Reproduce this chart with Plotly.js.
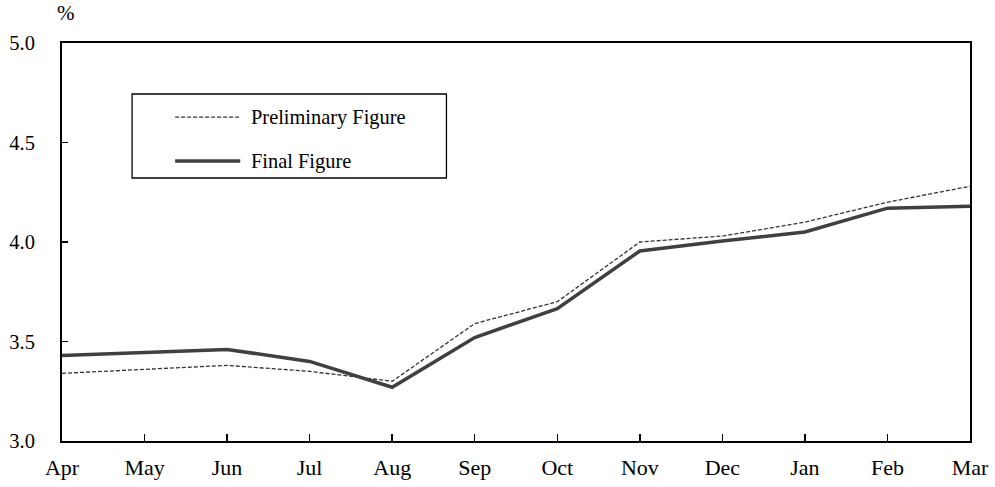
<!DOCTYPE html>
<html>
<head>
<meta charset="utf-8">
<script src="https://cdn.plot.ly/plotly-3.0.1.min.js"></script>
<style>html,body{margin:0;padding:0;background:#fff;}#chart{width:995px;height:487px;}</style>
</head>
<body>
<div id="chart"></div>
<script>
const months = ["Apr","May","Jun","Jul","Aug","Sep","Oct","Nov","Dec","Jan","Feb","Mar"];
const preliminary = [3.34,3.36,3.38,3.35,3.30,3.59,3.70,4.00,4.03,4.10,4.20,4.28];
const finalFig = [3.43,3.445,3.46,3.40,3.27,3.52,3.665,3.955,4.005,4.05,4.17,4.18];
const yTicks = [3.0,3.5,4.0,4.5,5.0];
const yTickText = ["3.0","3.5","4.0","4.5","5.0"];
const seriesNames = ["Preliminary Figure","Final Figure"];

const fam = "Liberation Serif, Times New Roman, serif";
const xFont = {family: fam, size: 22, color: "#000"};
const yFont = {family: fam, size: 20.5, color: "#000"};
const legFont = {family: fam, size: 20.4, color: "#000"};
const prelimLine = {color: "#333", width: 1.3, dash: "4px,2px"};
const finalLine = {color: "#404040", width: 3.5};

const traces = [
  {x: months, y: preliminary, name: seriesNames[0], type: "scatter", mode: "lines", line: prelimLine},
  {x: months, y: finalFig, name: seriesNames[1], type: "scatter", mode: "lines", line: finalLine}
];

// legend drawn as a framed key (paper coordinates)
const lgX0 = 0.0772, lgX1 = 0.4234, lgY0 = 0.6608, lgY1 = 0.8719;
const keyX0 = 0.1246, keyX1 = 0.1963, txtX = 0.2062;
const rowY = [0.814, 0.7035];

const layout = {
  width: 995, height: 487,
  margin: {l: 62, r: 25, t: 43, b: 46},
  paper_bgcolor: "#fff", plot_bgcolor: "#fff",
  font: yFont,
  showlegend: false,
  xaxis: {type: "category", range: [0, 11], showgrid: false, zeroline: false,
    showline: true, linecolor: "#000", linewidth: 2, mirror: true,
    ticks: "inside", ticklen: 7, tickwidth: 1.5, tickcolor: "#000",
    ticklabelstandoff: 6, tickfont: xFont, fixedrange: true},
  yaxis: {range: [3.0, 5.0], tickvals: yTicks, ticktext: yTickText, showgrid: false, zeroline: false,
    showline: true, linecolor: "#000", linewidth: 2, mirror: true,
    ticks: "inside", ticklen: 6, tickwidth: 1.5, tickcolor: "#000",
    ticklabelstandoff: 21, tickfont: yFont, fixedrange: true},
  shapes: [
    {type: "rect", xref: "paper", yref: "paper", x0: lgX0, x1: lgX1, y0: lgY0, y1: lgY1,
     line: {color: "#000", width: 1.3}, fillcolor: "#fff", layer: "above"},
    {type: "line", xref: "paper", yref: "paper", x0: keyX0, x1: keyX1, y0: rowY[0], y1: rowY[0],
     line: prelimLine, layer: "above"},
    {type: "line", xref: "paper", yref: "paper", x0: keyX0, x1: keyX1, y0: rowY[1], y1: rowY[1],
     line: finalLine, layer: "above"}
  ],
  annotations: [
    {text: "%", xref: "paper", yref: "paper", x: 0.0044, y: 1.0, xanchor: "center", yanchor: "bottom",
     yshift: 16, showarrow: false, font: {family: fam, size: 21, color: "#000"}},
    {text: seriesNames[0], xref: "paper", yref: "paper", x: txtX, y: rowY[0], xanchor: "left", yanchor: "middle",
     showarrow: false, font: legFont},
    {text: seriesNames[1], xref: "paper", yref: "paper", x: txtX, y: rowY[1], xanchor: "left", yanchor: "middle",
     showarrow: false, font: legFont}
  ]
};

Plotly.newPlot("chart", traces, layout, {displayModeBar: false, staticPlot: true});
</script>
</body>
</html>
